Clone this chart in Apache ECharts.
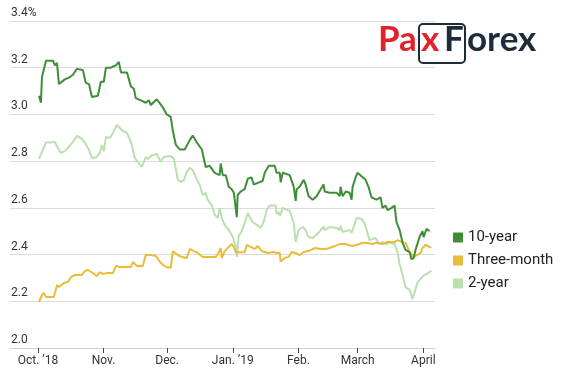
<!DOCTYPE html>
<html>
<head>
<meta charset="utf-8">
<script src="https://cdn.jsdelivr.net/npm/echarts@6/dist/echarts.min.js"></script>
<style>
  html, body { margin: 0; padding: 0; background: #fff; }
  #chart { width: 566px; height: 377px; }
</style>
</head>
<body>
<div id="chart"></div>
<script>
// x values are days counted from Oct. 1, 2018
const tickDays = [0, 31, 61, 92, 123, 151, 182];
const tickLabels = ["Oct. ’18", "Nov.", "Dec.", "Jan. ’19", "Feb.", "March", "April"];

const seriesNames = ["10-year", "Three-month", "2-year"];

const tenYear = [
  [0.5,3.08],[1.4,3.05],[1.9,3.16],[3.8,3.23],[7.1,3.23],[8.0,3.21],[9.0,3.22],[9.9,3.13],
  [12.7,3.15],[15.1,3.16],[16.5,3.17],[18.4,3.195],[21.2,3.19],[22.6,3.135],[24.1,3.13],
  [25.5,3.075],[28.3,3.08],[29.7,3.14],[31.1,3.14],[32.1,3.20],[34.4,3.20],[35.4,3.205],
  [36.8,3.21],[38.2,3.225],[39.2,3.18],[42.0,3.18],[43.9,3.12],[45.3,3.11],[46.2,3.07],
  [48.6,3.06],[50.9,3.05],[52.4,3.06],[53.3,3.04],[56.1,3.065],[59.0,3.03],[60.8,3.00],
  [62.7,2.99],[63.7,2.93],[65.1,2.87],[67.0,2.85],[69.3,2.85],[71.7,2.89],[73.1,2.91],
  [75.0,2.88],[77.4,2.85],[79.2,2.775],[81.1,2.78],[83.5,2.75],[85.8,2.74],[86.3,2.79],
  [87.3,2.74],[88.7,2.74],[90.1,2.69],[91.5,2.68],[92.5,2.665],[93.9,2.56],[94.3,2.655],
  [95.8,2.67],[97.6,2.68],[99.1,2.725],[100.9,2.73],[101.9,2.70],[104.7,2.71],[106.1,2.715],
  [107.1,2.75],[109.0,2.78],[111.8,2.78],[112.7,2.75],[114.2,2.75],[114.6,2.71],[115.6,2.75],
  [118.9,2.74],[120.8,2.69],[121.7,2.63],[122.2,2.68],[123.6,2.69],[125.5,2.72],[126.4,2.70],
  [127.8,2.65],[129.7,2.635],[131.6,2.65],[133.5,2.68],[134.9,2.70],[135.4,2.67],[137.7,2.665],
  [141.0,2.665],[142.5,2.65],[142.9,2.69],[143.9,2.65],[145.3,2.67],[147.2,2.665],[148.1,2.635],
  [148.6,2.69],[150.0,2.73],[150.9,2.75],[152.8,2.735],[154.7,2.72],[156.1,2.69],[157.5,2.645],
  [159.9,2.635],[161.8,2.645],[162.7,2.60],[164.2,2.61],[165.1,2.59],[167.0,2.60],[168.4,2.61],
  [169.3,2.54],[170.8,2.505],[172.2,2.45],[173.6,2.42],[175.5,2.41],[176.4,2.38],[177.4,2.385],
  [178.3,2.42],[180.2,2.475],[181.6,2.50],[182.1,2.475],[183.5,2.51],[184.9,2.50]
];

const threeMonth = [
  [0.5,2.197],[1.9,2.227],[2.8,2.236],[3.8,2.218],[5.7,2.218],[7.5,2.218],[9.0,2.27],[9.9,2.261],
  [12.3,2.278],[14.2,2.283],[15.6,2.304],[17.5,2.313],[20.8,2.313],[22.2,2.33],[23.6,2.334],
  [25.9,2.321],[27.8,2.308],[29.2,2.325],[30.7,2.317],[33.0,2.321],[35.4,2.321],[36.8,2.351],
  [38.7,2.347],[41.0,2.347],[43.9,2.347],[44.8,2.368],[46.7,2.351],[49.5,2.351],[50.9,2.398],
  [53.3,2.398],[55.7,2.394],[58.0,2.364],[60.4,2.347],[62.7,2.343],[63.7,2.415],[66.0,2.398],
  [67.9,2.39],[70.3,2.385],[71.7,2.424],[73.6,2.415],[75.5,2.407],[76.4,2.40],[77.8,2.39],
  [78.8,2.39],[81.1,2.39],[84.0,2.39],[85.4,2.41],[86.3,2.428],[86.8,2.385],[88.2,2.415],
  [90.1,2.433],[91.5,2.445],[92.5,2.433],[93.4,2.41],[95.3,2.41],[97.6,2.41],[98.6,2.441],
  [100.5,2.433],[102.4,2.424],[103.8,2.437],[105.7,2.415],[108.5,2.407],[111.3,2.411],
  [112.7,2.407],[114.2,2.407],[114.6,2.37],[116.5,2.385],[118.4,2.39],[119.8,2.411],
  [121.7,2.407],[123.6,2.398],[125.5,2.411],[127.8,2.415],[130.7,2.428],[133.5,2.424],
  [135.8,2.424],[137.7,2.428],[142.5,2.445],[145.3,2.445],[148.1,2.437],[150.5,2.441],
  [153.3,2.45],[155.7,2.45],[157.5,2.445],[159.9,2.45],[162.7,2.445],[165.1,2.454],
  [168.4,2.454],[169.8,2.462],[171.7,2.454],[173.6,2.45],[175.5,2.411],[177.4,2.39],
  [178.3,2.398],[180.7,2.407],[181.6,2.428],[183.0,2.441],[184.9,2.433],[185.8,2.43]
];

const twoYear = [
  [0.5,2.81],[1.4,2.805],[2.4,2.85],[3.8,2.88],[5.7,2.88],[8.0,2.882],[9.4,2.856],[10.8,2.835],
  [12.7,2.843],[14.6,2.861],[16.5,2.882],[18.4,2.908],[20.8,2.895],[22.6,2.873],[24.1,2.848],
  [25.5,2.813],[27.8,2.818],[29.2,2.835],[30.2,2.869],[31.1,2.843],[32.1,2.903],[34.0,2.899],
  [35.4,2.921],[37.3,2.955],[38.2,2.963],[40.1,2.929],[42.0,2.921],[43.9,2.882],[45.8,2.813],
  [47.6,2.792],[49.1,2.775],[50.9,2.818],[51.9,2.809],[53.3,2.822],[56.1,2.831],[58.0,2.796],
  [59.4,2.818],[62.3,2.822],[64.2,2.813],[65.1,2.818],[66.0,2.72],[67.5,2.711],[68.9,2.719],
  [70.3,2.754],[71.7,2.771],[73.1,2.762],[74.5,2.732],[76.4,2.698],[77.8,2.655],[79.2,2.664],
  [80.2,2.634],[82.1,2.612],[83.5,2.57],[84.9,2.557],[85.8,2.599],[86.8,2.557],[88.2,2.527],
  [90.1,2.505],[92.0,2.475],[93.4,2.433],[93.9,2.39],[94.8,2.48],[96.2,2.50],[97.6,2.535],
  [99.1,2.578],[100.0,2.561],[101.4,2.54],[103.3,2.527],[105.2,2.514],[106.6,2.54],[108.0,2.59],
  [109.4,2.61],[112.3,2.61],[112.7,2.574],[113.7,2.582],[114.2,2.565],[115.6,2.60],[118.9,2.587],
  [120.8,2.535],[121.7,2.454],[123.1,2.505],[125.0,2.518],[126.4,2.505],[127.8,2.475],
  [129.7,2.471],[132.1,2.49],[134.9,2.52],[135.4,2.505],[137.7,2.518],[141.0,2.514],
  [142.5,2.505],[142.9,2.522],[143.9,2.497],[147.2,2.505],[148.1,2.492],[149.1,2.518],
  [150.5,2.557],[152.8,2.552],[154.2,2.535],[156.6,2.462],[157.5,2.454],[159.4,2.471],
  [161.3,2.445],[162.7,2.454],[164.6,2.445],[166.0,2.45],[168.4,2.445],[169.8,2.41],
  [170.8,2.36],[171.7,2.33],[173.6,2.26],[175.5,2.25],[176.9,2.21],[177.8,2.235],[179.2,2.28],
  [181.1,2.30],[182.1,2.31],[183.0,2.305],[184.9,2.325],[185.8,2.33]
];

const colors = { "10-year": "#3e8e38", "Three-month": "#e8bd38", "2-year": "#bbdfae" };

const chart = echarts.init(document.getElementById("chart"));

function lineSeries(name, data) {
    return {
        name: name,
        type: "line",
        data: data,
        showSymbol: false,
        lineStyle: { width: 2, color: colors[name] },
        itemStyle: { color: colors[name] }
    };
}

const option = {
    animation: false,
    textStyle: { fontFamily: "Roboto" },
    grid: { left: 10, right: 131, top: 21, bottom: 29 },
    xAxis: {
        type: "value",
        min: -13.2,
        max: 187.5,
        splitLine: { show: false },
        axisLine: { show: true, lineStyle: { color: "#d4d4d4", width: 1 } },
        axisTick: { show: true, customValues: tickDays, length: 5, lineStyle: { color: "#444" } },
        axisLabel: {
            customValues: tickDays,
            margin: 7,
            fontSize: 12,
            color: "#333",
            formatter: v => tickLabels[tickDays.indexOf(Math.round(v))] || ""
        }
    },
    yAxis: {
        type: "value",
        min: 2.0,
        max: 3.4,
        interval: 0.2,
        axisLine: { show: false },
        axisTick: { show: false },
        splitLine: { lineStyle: { color: "#dcdcdc", width: 1 } },
        axisLabel: {
            inside: true,
            margin: 1,
            fontSize: 12,
            color: "#333",
            verticalAlign: "bottom",
            padding: [0, 0, 2, 0],
            formatter: v => Math.abs(v - 3.4) < 1e-6 ? v.toFixed(1) + "%" : v.toFixed(1)
        }
    },
    legend: {
        data: seriesNames,
        orient: "vertical",
        left: 448,
        top: 225,
        icon: "rect",
        itemWidth: 10,
        itemHeight: 10,
        itemGap: 8,
        textStyle: { fontSize: 15, color: "#222", fontFamily: "Roboto" }
    },
    graphic: [
        { type: "text", left: 378, top: 22, style: { text: "Pa", font: "bold 35px Lato", fill: "#e2222b" } },
        { type: "rect", shape: { x: 419, y: 24, width: 46, height: 39, r: 4 },
          style: { fill: "none", stroke: "#1e2b3a", lineWidth: 2 } },
        { type: "text", left: 421, top: 22, style: { text: "x", font: "bold 35px Lato", fill: "#e2222b" } },
        { type: "text", left: 444, top: 22, style: { text: "F", font: "bold 35px Lato", fill: "#1e2b3a" } },
        { type: "text", left: 467, top: 22, style: { text: "orex", font: "bold 35px Lato", fill: "#1e2b3a" } }
    ],
    series: [
        lineSeries("2-year", twoYear),
        lineSeries("Three-month", threeMonth),
        lineSeries("10-year", tenYear)
    ]
};

chart.setOption(option);
</script>
</body>
</html>
